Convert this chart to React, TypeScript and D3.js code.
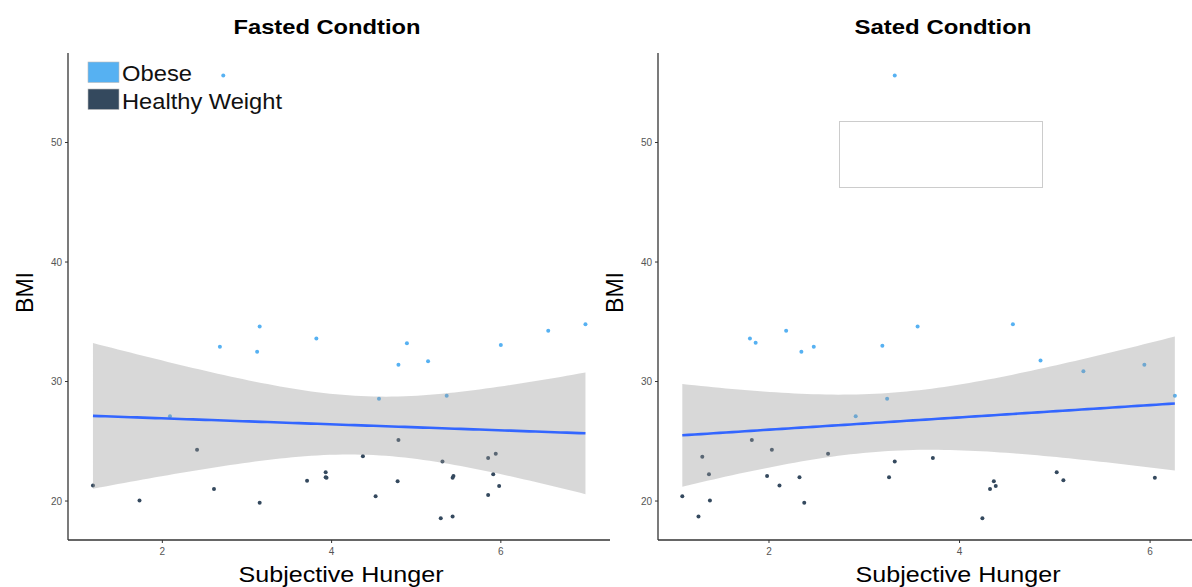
import React from 'react';
import * as d3 from 'd3';

// BMI against subjective hunger
const fastedObeseHunger = [3.15, 2.68, 3.12, 3.82, 2.09, 2.72, 4.89, 4.79, 5.14, 6.0, 6.56, 7.0, 4.56, 5.36];
const fastedObeseBmi = [34.6, 32.9, 32.5, 33.6, 27.1, 55.6, 33.2, 31.4, 31.7, 33.05, 34.25, 34.8, 28.55, 28.8];
const fastedHealthyHunger = [1.18, 1.73, 2.41, 2.61, 3.15, 3.71, 3.93, 3.93, 3.94, 4.37, 4.52, 4.79, 4.78, 5.29, 5.31, 5.43, 5.44, 5.43, 5.85, 5.85, 5.91, 5.94, 5.98];
const fastedHealthyBmi = [21.3, 20.05, 24.3, 21.0, 19.85, 21.7, 22.4, 22.0, 21.95, 23.75, 20.4, 25.1, 21.65, 18.55, 23.3, 21.95, 22.1, 18.7, 23.6, 20.5, 22.25, 23.95, 21.25];

const satedObeseHunger = [1.8, 1.86, 2.18, 2.34, 2.47, 3.19, 3.56, 3.24, 2.91, 4.56, 4.85, 5.3, 5.94, 6.26, 3.32];
const satedObeseBmi = [33.6, 33.25, 34.25, 32.5, 32.9, 33.0, 34.6, 28.55, 27.1, 34.8, 31.75, 30.85, 31.4, 28.8, 55.6];
const satedHealthyHunger = [1.82, 2.03, 1.3, 1.37, 1.98, 2.11, 2.32, 2.37, 1.09, 1.26, 1.38, 2.62, 3.32, 3.26, 3.72, 4.36, 4.38, 4.32, 4.24, 5.02, 5.09, 6.05];
const satedHealthyBmi = [25.1, 24.3, 23.7, 22.25, 22.1, 21.3, 22.0, 19.85, 20.4, 18.7, 20.05, 23.95, 23.3, 22.0, 23.6, 21.65, 21.25, 21.0, 18.55, 22.4, 21.75, 21.95];

const xTicks = [2, 4, 6];
const yTicks = [20, 30, 40, 50];
const legendLabels = ['Obese', 'Healthy Weight'];

const OBESE = '#56b1f2';
const HEALTHY = '#34495e';
const FONT = '"Liberation Sans", Arial, Helvetica, sans-serif';

type Pt = { x: number; y: number };

function zip(xs: number[], ys: number[]): Pt[] {
  return xs.map((x, i) => ({ x, y: ys[i] }));
}

// approximate t quantile (Cornish-Fisher)
function tQuantile(df: number) {
  const z = 1.959964;
  return z + (z ** 3 + z) / (4 * df) + (5 * z ** 5 + 16 * z ** 3 + 3 * z) / (96 * df * df);
}

// like geom_smooth(method = "lm")
function lmBand(pts: Pt[]) {
  const n = pts.length;
  const mx = d3.mean(pts, (p) => p.x)!;
  const my = d3.mean(pts, (p) => p.y)!;
  const sxx = d3.sum(pts, (p) => (p.x - mx) ** 2);
  const sxy = d3.sum(pts, (p) => (p.x - mx) * (p.y - my));
  const b = sxy / sxx;
  const a = my - b * mx;
  const sse = d3.sum(pts, (p) => (p.y - a - b * p.x) ** 2);
  const s = Math.sqrt(sse / (n - 2));
  const t = tQuantile(n - 2);
  const [lo, hi] = d3.extent(pts, (p) => p.x) as [number, number];
  return d3.range(80).map((i) => {
    const x = lo + ((hi - lo) * i) / 79;
    const fit = a + b * x;
    const se = s * Math.sqrt(1 / n + (x - mx) ** 2 / sxx);
    return { x, fit, lo: fit - t * se, hi: fit + t * se };
  });
}

type PanelProps = {
  title: string;
  titleX: number;
  titleW: number;
  labelX: number;
  left: number;
  right: number;
  xDomain: [number, number];
  obese: Pt[];
  healthy: Pt[];
  legend: 'keys' | 'empty';
};

const TOP = 53;
const BOTTOM = 540;

function Panel({ title, titleX, titleW, labelX, left, right, xDomain, obese, healthy, legend }: PanelProps) {
  const x = d3.scaleLinear().domain(xDomain).range([left, right]);
  const y = d3.scaleLinear().domain([16.74, 57.49]).range([BOTTOM, TOP]);
  const band = lmBand([...obese, ...healthy]);
  const area = d3
    .area<{ x: number; lo: number; hi: number }>()
    .x((d) => x(d.x))
    .y0((d) => y(d.lo))
    .y1((d) => y(d.hi));
  const line = d3
    .line<{ x: number; fit: number }>()
    .x((d) => x(d.x))
    .y((d) => y(d.fit));

  return (
    <g>
      <text
        x={titleX}
        y={33.5}
        textAnchor="middle"
        fontSize={21}
        fontWeight="bold"
        fill="#000"
        textLength={titleW}
        lengthAdjust="spacingAndGlyphs"
      >
        {title}
      </text>

      {healthy.map((p, i) => (
        <circle key={'h' + i} cx={x(p.x)} cy={y(p.y)} r={2} fill={HEALTHY} />
      ))}
      {obese.map((p, i) => (
        <circle key={'o' + i} cx={x(p.x)} cy={y(p.y)} r={2} fill={OBESE} />
      ))}

      <path d={area(band) ?? ''} fill="#999999" fillOpacity={0.38} />
      <path d={line(band) ?? ''} fill="none" stroke="#3366ff" strokeWidth={2.6} />

      {/* axes */}
      <line x1={left} x2={left} y1={TOP} y2={BOTTOM} stroke="#333" strokeWidth={1.3} />
      <line x1={left} x2={right} y1={BOTTOM} y2={BOTTOM} stroke="#333" strokeWidth={1.3} />
      {xTicks.map((t) => (
        <g key={'x' + t}>
          <line x1={x(t)} x2={x(t)} y1={BOTTOM} y2={BOTTOM + 3} stroke="#333" strokeWidth={1} />
          <text x={x(t)} y={BOTTOM + 15} textAnchor="middle" fontSize={10} fill="#555">
            {t}
          </text>
        </g>
      ))}
      {yTicks.map((t) => (
        <g key={'y' + t}>
          <line x1={left - 3} x2={left} y1={y(t)} y2={y(t)} stroke="#333" strokeWidth={1} />
          <text x={left - 6} y={y(t) + 3.5} textAnchor="end" fontSize={10} fill="#555">
            {t}
          </text>
        </g>
      ))}

      <text
        x={labelX}
        y={582}
        textAnchor="middle"
        fontSize={22}
        fill="#000"
        textLength={205}
        lengthAdjust="spacingAndGlyphs"
      >
        Subjective Hunger
      </text>
      <text
        transform={`translate(${left - 35},${292.5}) rotate(-90)`}
        textAnchor="middle"
        fontSize={23}
        fill="#000"
        textLength={41}
        lengthAdjust="spacingAndGlyphs"
      >
        BMI
      </text>

      {legend === 'keys' ? (
        <g>
          {legendLabels.map((lab, i) => (
            <g key={lab}>
              <rect
                x={left + 20}
                y={62 + i * 27}
                width={31}
                height={20.5}
                fill={i === 0 ? OBESE : HEALTHY}
                stroke="#bbb"
                strokeWidth={0.6}
              />
              <text
                x={left + 54}
                y={81 + i * 27.5}
                fontSize={22.5}
                fill="#111"
                textLength={i === 0 ? 70 : 160}
                lengthAdjust="spacingAndGlyphs"
              >
                {lab}
              </text>
            </g>
          ))}
        </g>
      ) : (
        <rect x={839.5} y={121.5} width={203} height={66} fill="#fff" stroke="#ccc" strokeWidth={1} />
      )}
    </g>
  );
}

export default function App() {
  return (
    <svg
      width={1192}
      height={587}
      style={{ position: 'absolute', left: 0, top: 0, background: '#fff', fontFamily: FONT }}
    >
      <rect width={1192} height={587} fill="#fff" />
      <Panel
        title="Fasted Condtion"
        titleX={327}
        titleW={187}
        labelX={341}
        left={68}
        right={610}
        xDomain={[0.885, 7.29]}
        obese={zip(fastedObeseHunger, fastedObeseBmi)}
        healthy={zip(fastedHealthyHunger, fastedHealthyBmi)}
        legend="keys"
      />
      <Panel
        title="Sated Condtion"
        titleX={943}
        titleW={177}
        labelX={958}
        left={658}
        right={1192}
        xDomain={[0.835, 6.44]}
        obese={zip(satedObeseHunger, satedObeseBmi)}
        healthy={zip(satedHealthyHunger, satedHealthyBmi)}
        legend="empty"
      />
    </svg>
  );
}
